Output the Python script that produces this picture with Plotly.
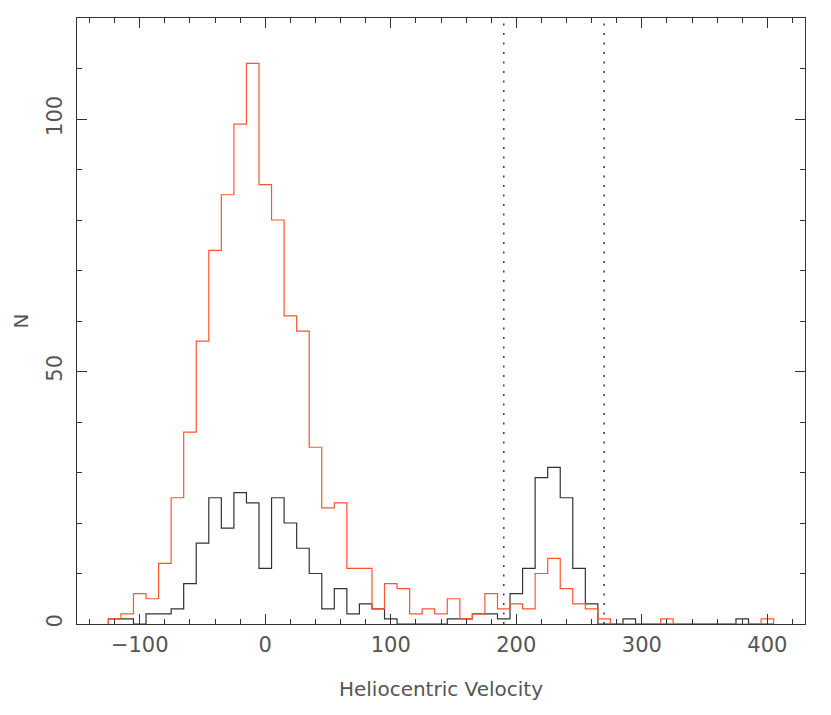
import plotly.graph_objects as go

# bin centers (width 10)
bin_centers = list(range(-120, 410, 10))

red_counts = [1, 2, 6, 5, 12, 25, 38, 56, 74, 85, 99, 111, 87, 80, 61, 58,
              35, 23, 24, 11, 11, 3, 8, 7, 2, 3, 2, 5, 1, 2, 6, 3, 4, 3,
              10, 13, 7, 4, 3, 1, 0, 0, 0, 0, 1, 0, 0, 0, 0, 0, 0, 0, 1]
black_counts = [1, 1, 0, 2, 2, 3, 8, 16, 25, 19, 26, 24, 11, 25, 20, 15,
                10, 3, 7, 2, 4, 3, 1, 0, 0, 0, 0, 1, 1, 2, 2, 1, 6, 11,
                29, 31, 25, 11, 4, 0, 0, 1, 0, 0, 0, 0, 0, 0, 0, 0, 1, 0, 0]
bin_width = 10
vlines = [190, 270]

x_ticks = [-100, 0, 100, 200, 300, 400]
y_ticks = [0, 50, 100]


def step_xy(centers, counts, w):
    xs = [centers[0] - w / 2]
    ys = [0]
    for c, n in zip(centers, counts):
        xs.append(c - w / 2)
        ys.append(n)
    xs.append(centers[-1] + w / 2)
    ys.append(0)
    return xs, ys


fig = go.Figure()
bx, by = step_xy(bin_centers, black_counts, bin_width)
rx, ry = step_xy(bin_centers, red_counts, bin_width)
fig.add_trace(go.Scatter(x=bx, y=by, mode="lines", line=dict(shape="hv", color="#333333", width=1.2),
                         showlegend=False, hoverinfo="skip"))
fig.add_trace(go.Scatter(x=rx, y=ry, mode="lines", line=dict(shape="hv", color="#ff5533", width=1.2),
                         showlegend=False, hoverinfo="skip"))

for v in vlines:
    fig.add_shape(type="line", x0=v, x1=v, y0=0, y1=1, xref="x", yref="paper",
                  line=dict(color="#444444", width=1.6, dash="2px,7.5px"))

font_family = "DejaVu Sans"
axis_common = dict(
    showgrid=False, zeroline=False, showline=True, linecolor="#333333", linewidth=1,
    mirror="ticks", ticks="inside", ticklen=10, tickwidth=1, tickcolor="#333333",
    tickfont=dict(family=font_family, size=21, color="#555555"),
)
fig.update_layout(
    width=823, height=707,
    margin=dict(l=69, r=26, t=10, b=91),
    paper_bgcolor="white", plot_bgcolor="white",
    xaxis=dict(range=[-150, 430], tickvals=x_ticks, ticktext=[("\u2212" + str(-t)) if t < 0 else str(t) for t in x_ticks],
               minor=dict(dtick=20, tick0=0, ticks="inside", ticklen=5, tickcolor="#333333"),
               title=dict(text="Heliocentric Velocity", font=dict(family=font_family, size=20, color="#555555"), standoff=25),
               ticklabelstandoff=2,
               **axis_common),
    yaxis=dict(range=[0, 120], tickvals=y_ticks, tickangle=-90,
               minor=dict(dtick=10, tick0=0, ticks="inside", ticklen=5, tickcolor="#333333"),
               title=dict(text="N", font=dict(family=font_family, size=20, color="#555555"), standoff=8),
               ticklabelstandoff=6,
               **axis_common),
)
fig.write_html("out.html")
